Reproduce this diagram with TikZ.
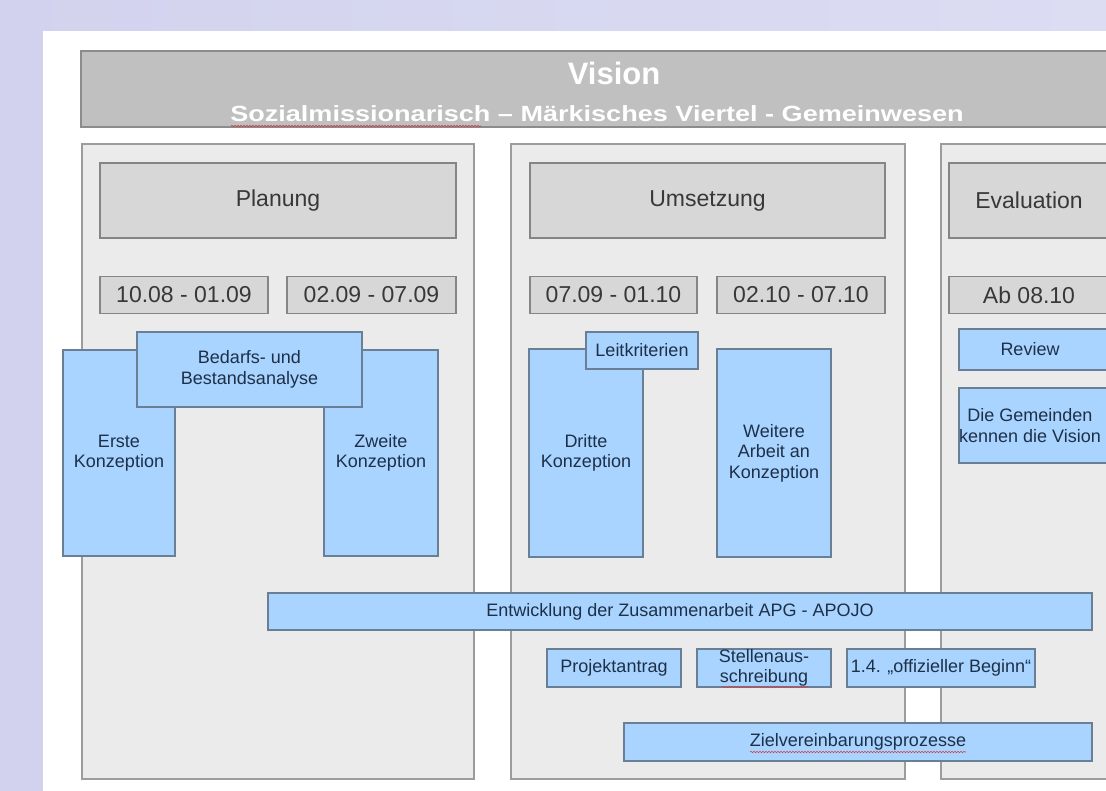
\documentclass[tikz,border=0pt]{standalone}
\usepackage{fontspec}
\setmainfont{Liberation Sans}
\usetikzlibrary{decorations.pathmorphing}
\definecolor{lavL}{HTML}{D2D2EE}
\definecolor{lavR}{HTML}{DCDDF3}
\definecolor{visf}{HTML}{C0C0C0}
\definecolor{visb}{HTML}{8C8C8C}
\definecolor{colf}{HTML}{EBEBEB}
\definecolor{colb}{HTML}{9C9C9C}
\definecolor{hdrf}{HTML}{D7D7D7}
\definecolor{hdrb}{HTML}{858585}
\definecolor{txtg}{HTML}{383838}
\definecolor{bluf}{HTML}{A8D4FF}
\definecolor{blub}{HTML}{687F96}
\definecolor{blut}{HTML}{1E3048}
\definecolor{spellred}{HTML}{D04040}
\tikzset{
  colbox/.style={draw=colb, fill=colf, line width=1.3pt, rectangle, inner sep=0pt},
  hdrbox/.style={draw=hdrb, fill=hdrf, line width=1.1pt, rectangle, inner sep=0pt,
    font=\fontsize{23}{26}\selectfont, text=txtg},
  blubox/.style={draw=blub, fill=bluf, line width=1.1pt, rectangle, inner sep=0pt,
    align=center, font=\fontsize{18}{20.5}\selectfont, text=blut},
  blutext/.style={align=center, font=\fontsize{18}{20.5}\selectfont, text=blut, inner sep=0pt},
  hdrtext/.style={font=\fontsize{23}{26}\selectfont, text=txtg, inner sep=0pt},
  spell/.style={draw=spellred, line width=0.6pt, decorate,
    decoration={snake, amplitude=0.7pt, segment length=3pt}}
}
\begin{document}
\begin{tikzpicture}[x=1pt,y=-1pt]
\useasboundingbox (0,0) rectangle (1106,791);
\clip (0,0) rectangle (1106,791);
% background
\fill[left color=lavL, right color=lavR] (0,0) rectangle (1106,791);
\fill[white] (43,31) rectangle (1120,800);
% vision bar
\node[draw=visb, fill=visf, line width=1.2pt, minimum width=1050pt, minimum height=76pt, inner sep=0pt] (vision) at (606,89) {};
\node[text=white, font=\bfseries\fontsize{31}{34}\selectfont, inner sep=0pt] (visiont) at (614,73) {Vision};
\node[text=white, font=\bfseries\fontsize{22}{24}\selectfont, inner sep=0pt] (subt) at (597,114)
  {\scalebox{1.23}[1]{Sozialmissionarisch – Märkisches Viertel - Gemeinwesen}};
\draw[spell] (231,126) -- (481,126);
% columns
\node[colbox, minimum width=392pt, minimum height=635pt] (plan) at (278,461.5) {};
\node[colbox, minimum width=394pt, minimum height=635pt] (umset) at (708,461.5) {};
\node[colbox, minimum width=200pt, minimum height=635pt] (eval) at (1041,461.5) {};
% headers
\node[hdrbox, minimum width=356pt, minimum height=75pt] (hplan) at (278,200.5) {Planung};
\node[hdrbox, minimum width=355pt, minimum height=75pt] (humset) at (707.5,200.5) {Umsetzung};
\node[hdrbox, minimum width=180pt, minimum height=75pt] (heval) at (1039,200.5) {};
\node[hdrtext] (hevalt) at (1029,200.5) {Evaluation};
% dates
\node[hdrbox, minimum width=168pt, minimum height=37pt] (d1) at (184,295) {10.08 - 01.09};
\node[hdrbox, minimum width=169pt, minimum height=37pt] (d2) at (371.5,295) {02.09 - 07.09};
\node[hdrbox, minimum width=167pt, minimum height=37pt] (d3) at (613.5,295) {07.09 - 01.10};
\node[hdrbox, minimum width=168pt, minimum height=37pt] (d4) at (801,295) {02.10 - 07.10};
\node[hdrbox, minimum width=180pt, minimum height=37pt] (d5) at (1039,295) {};
\node[hdrtext] (d5t) at (1029,295) {Ab 08.10};
% planung blue boxes
\node[blubox, minimum width=112pt, minimum height=206pt] (erste) at (119,453) {Erste\\Konzeption};
\node[blubox, minimum width=114pt, minimum height=206pt] (zweite) at (381,453) {Zweite\\Konzeption};
\node[blubox, minimum width=225pt, minimum height=75pt] (bedarf) at (249.5,369.5) {Bedarfs- und\\Bestandsanalyse};
% umsetzung blue boxes
\node[blubox, minimum width=114pt, minimum height=208pt] (dritte) at (586,453) {Dritte\\Konzeption};
\node[blubox, minimum width=114pt, minimum height=208pt] (weitere) at (774,453) {Weitere\\Arbeit an\\Konzeption};
\node[blubox, minimum width=112pt, minimum height=37pt] (leit) at (642,350.5) {Leitkriterien};
% evaluation blue boxes
\node[blubox, minimum width=170pt, minimum height=41pt] (review) at (1044,349.5) {};
\node[blutext] (reviewt) at (1030,349.5) {Review};
\node[blubox, minimum width=170pt, minimum height=75pt] (gem) at (1044,425.5) {};
\node[blutext] (gemt) at (1030,425.5) {Die Gemeinden\\kennen die Vision};
% lower boxes
\node[blubox, minimum width=824pt, minimum height=37pt] (entw) at (680,611.5) {Entwicklung der Zusammenarbeit APG - APOJO};
\node[blubox, minimum width=134pt, minimum height=38pt] (projekt) at (614,668) {Projektantrag};
\node[blubox, minimum width=134pt, minimum height=38pt] (stellen) at (764,668) {Stellenaus-\\schreibung};
\node[blubox, minimum width=188pt, minimum height=38pt] (beginn) at (941,668) {1.4. „offizieller Beginn“};
\node[blubox, minimum width=468pt, minimum height=38pt] (ziel) at (858,742) {Zielvereinbarungsprozesse};
% spelling marks
\draw[spell] ([xshift=-42pt,yshift=-19pt]stellen.center) -- ([xshift=44pt,yshift=-19pt]stellen.center);
\draw[spell] ([xshift=-108pt,yshift=-10pt]ziel.center) -- ([xshift=108pt,yshift=-10pt]ziel.center);
\end{tikzpicture}
\end{document}
